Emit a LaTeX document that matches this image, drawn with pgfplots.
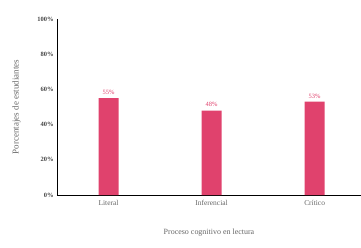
\documentclass[border=0pt]{standalone}
\usepackage{pgfplots}
\pgfplotsset{compat=1.18}
\usepackage{fontspec}
\setmainfont{Liberation Serif}
\definecolor{barpink}{HTML}{E0426D}
\definecolor{txtgray}{HTML}{666666}
\definecolor{tickgray}{HTML}{444444}
\begin{document}
\begin{tikzpicture}
\begin{axis}[
  scale only axis,
  width=304bp, height=176bp,
  at={(0,0)}, anchor=south west,
  ymin=0, ymax=100,
  xmin=-0.5, xmax=2.45,
  axis x line=bottom, axis y line=left,
  axis line style={black, line width=0.9pt, -},
  xtick={0,1,2},
  xticklabels={Literal,Inferencial,Crítico},
  ytick={0,20,40,60,80,100},
  yticklabel={\pgfmathprintnumber{\tick}\%},
  /pgf/number format/assume math mode=true,
  major tick length=0pt,
  yticklabel style={font=\fontsize{6.5}{7}\selectfont\bfseries, text=tickgray},
  xticklabel style={font=\fontsize{7.5}{8}\selectfont, text=txtgray, yshift=-2bp},
  ylabel={Porcentajes de estudiantes},
  ylabel style={font=\fontsize{9}{10}\selectfont, text=txtgray, yshift=10bp},
  xlabel={Proceso cognitivo en lectura},
  xlabel style={font=\fontsize{8}{9}\selectfont, text=txtgray, yshift=-16bp},
  ybar, bar width=20bp,
  nodes near coords={\pgfmathprintnumber{\pgfplotspointmeta}\%},
  nodes near coords style={font=\fontsize{6.5}{7}\selectfont, text=barpink},
  clip=false,
]
\addplot[fill=barpink, draw=none] coordinates {(0,55) (1,48) (2,53)};
\end{axis}
\pgfresetboundingbox
\path (-57bp,-53bp) rectangle (304bp,195bp);
\end{tikzpicture}
\end{document}
